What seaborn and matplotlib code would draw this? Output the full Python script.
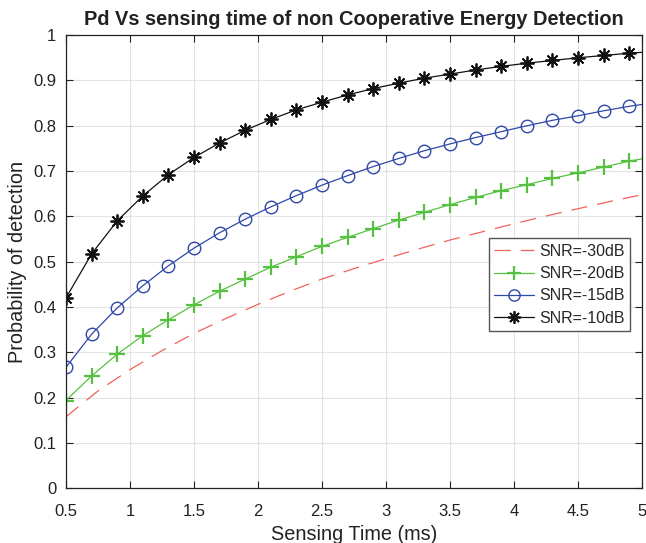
import numpy as np
import pandas as pd
import matplotlib
matplotlib.use("Agg")
import matplotlib.pyplot as plt
import seaborn as sns

# Data
t_mark = [0.5, 0.7, 0.9, 1.1, 1.3, 1.5, 1.7, 1.9, 2.1, 2.3, 2.5, 2.7, 2.9, 3.1,
          3.3, 3.5, 3.7, 3.9, 4.1, 4.3, 4.5, 4.7, 4.9, 5.0]
pd_m10 = [0.420, 0.517, 0.590, 0.645, 0.692, 0.730, 0.762, 0.790, 0.814, 0.835,
          0.852, 0.868, 0.882, 0.894, 0.905, 0.914, 0.923, 0.931, 0.938, 0.944,
          0.950, 0.955, 0.960, 0.962]
pd_m15 = [0.267, 0.340, 0.398, 0.447, 0.491, 0.530, 0.564, 0.594, 0.621, 0.646,
          0.669, 0.690, 0.710, 0.728, 0.745, 0.760, 0.774, 0.787, 0.800, 0.812,
          0.822, 0.833, 0.843, 0.847]
pd_m20 = [0.194, 0.248, 0.296, 0.337, 0.372, 0.405, 0.435, 0.462, 0.488, 0.511,
          0.534, 0.554, 0.573, 0.592, 0.609, 0.626, 0.642, 0.657, 0.670, 0.684,
          0.696, 0.709, 0.722, 0.727]
t_red = [0.5, 0.75, 1.0, 1.25, 1.5, 1.75, 2.0, 2.25, 2.5, 2.75, 3.0, 3.25, 3.5,
         3.75, 4.0, 4.25, 4.5, 4.75, 5.0]
pd_m30 = [0.158, 0.215, 0.262, 0.304, 0.342, 0.375, 0.406, 0.435, 0.462, 0.485,
          0.507, 0.528, 0.548, 0.566, 0.584, 0.601, 0.617, 0.633, 0.648]

labels = ["SNR=-30dB", "SNR=-20dB", "SNR=-15dB", "SNR=-10dB"]
xticks = [0.5, 1, 1.5, 2, 2.5, 3, 3.5, 4, 4.5, 5]
xticklabels = ["0.5", "1", "1.5", "2", "2.5", "3", "3.5", "4", "4.5", "5"]
yticks = [0, 0.1, 0.2, 0.3, 0.4, 0.5, 0.6, 0.7, 0.8, 0.9, 1]
yticklabels = ["0", "0.1", "0.2", "0.3", "0.4", "0.5", "0.6", "0.7", "0.8", "0.9", "1"]

sns.set_theme(style="white")
plt.rcParams["font.family"] = ["Liberation Sans", "DejaVu Sans"]

fig = plt.figure(figsize=(6.46, 5.43), dpi=100)
ax = fig.add_axes([0.102, 0.1004, 0.892, 0.835])

mev = slice(0, len(t_mark) - 1)
styles = [
    dict(color="#F0625C", linestyle=(0, (13, 8)), marker="None"),
    dict(color="#56C140", linestyle="-", marker="+", markersize=11,
         markeredgewidth=1.6),
    dict(color="#2F47A8", linestyle="-", marker="o", markersize=9,
         markerfacecolor="none", markeredgewidth=1.0),
    dict(color="#111111", linestyle="-", marker=(8, 2, 0), markersize=10,
         markeredgewidth=1.3),
]
series = [(t_red, pd_m30), (t_mark, pd_m20), (t_mark, pd_m15), (t_mark, pd_m10)]
for (xs, ys), lab, st in zip(series, labels, styles):
    n_before = len(ax.lines)
    sns.lineplot(x=xs, y=ys, ax=ax, color=st["color"], lw=0.9, label=lab)
    line = ax.lines[n_before]
    line.set_linestyle(st["linestyle"])
    line.set_marker(st["marker"])
    if st["marker"] != "None":
        line.set_markersize(st["markersize"])
        line.set_markeredgewidth(st["markeredgewidth"])
        line.set_markeredgecolor(st["color"])
        line.set_markerfacecolor(st.get("markerfacecolor", st["color"]))
        line.set_markevery(mev)

ax.set_xlim(0.5, 5)
ax.set_ylim(0, 1)
ax.set_xticks(xticks)
ax.set_xticklabels(xticklabels)
ax.set_yticks(yticks)
ax.set_yticklabels(yticklabels)
ax.grid(True, color="#E3E3E3", lw=0.8)
ax.set_axisbelow(True)
ax.tick_params(direction="in", length=5, width=0.8, colors="#222222",
               labelsize=12, top=True, right=True, bottom=True, left=True,
               labelcolor="#222222")
ax.tick_params(axis="x", pad=11)
ax.tick_params(axis="y", pad=7)
for s in ax.spines.values():
    s.set_color("#222222")
    s.set_linewidth(0.9)

ax.set_xlabel("Sensing Time (ms)", fontsize=14.3, color="#222222")
ax.set_ylabel("Probability of detection", fontsize=14.3, color="#222222")
ax.xaxis.set_label_coords(0.5, -0.080)
ax.yaxis.set_label_coords(-0.068, 0.5)
ax.set_title("Pd Vs sensing time of non Cooperative Energy Detection",
             fontsize=14.4, fontweight="bold", color="#222222", pad=7)

handles = ax.lines[:4]
leg = ax.legend(handles, labels, loc="lower left", bbox_to_anchor=(0.7335, 0.347),
                borderaxespad=0, fontsize=11.5, frameon=True, fancybox=False,
                framealpha=1, edgecolor="#555555", handlelength=2.5,
                handletextpad=0.3, labelspacing=0.45, borderpad=0.35,
                markerscale=0.9)
leg.get_frame().set_linewidth(1.0)

fig.savefig("out.png", dpi=100)
